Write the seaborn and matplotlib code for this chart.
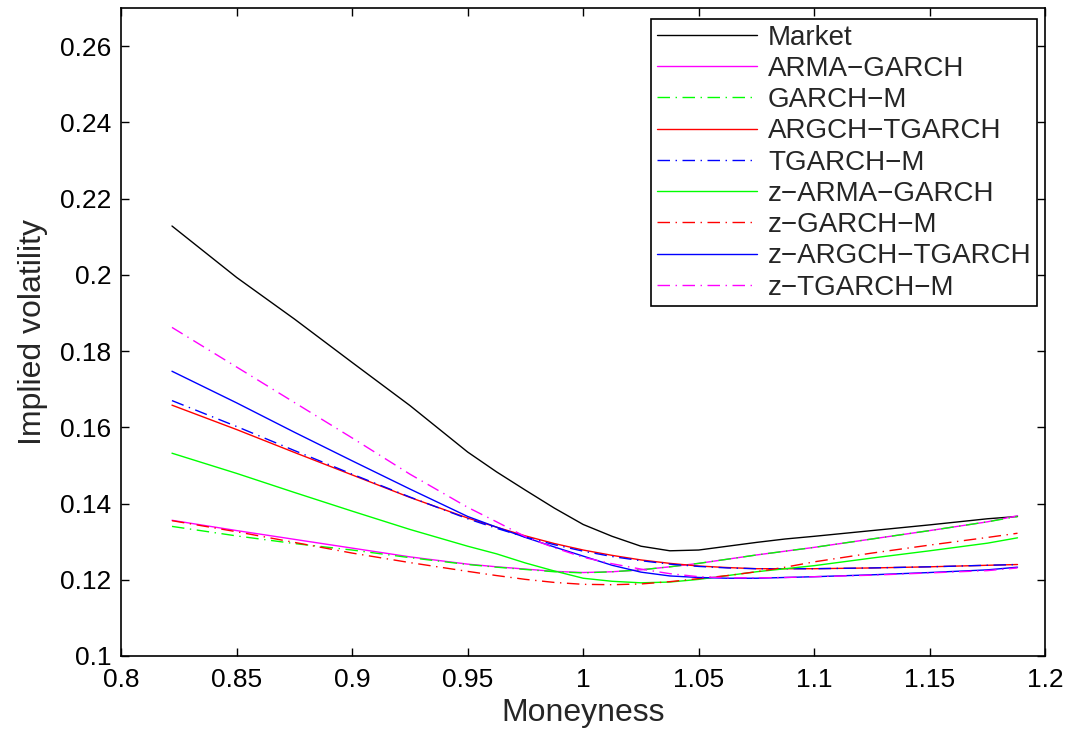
import numpy as np
import pandas as pd
import matplotlib
matplotlib.use("Agg")
import matplotlib.pyplot as plt
import seaborn as sns

moneyness = [0.822, 0.85, 0.875, 0.9, 0.925, 0.95, 0.9625, 0.975, 0.9875, 1.0, 1.0125,
             1.025, 1.0375, 1.05, 1.0625, 1.075, 1.0875, 1.1, 1.125, 1.15, 1.175, 1.188]

market = [0.2128, 0.1993, 0.1884, 0.1770, 0.1657, 0.1535, 0.1483, 0.1435, 0.1388, 0.1345, 0.1314,
          0.1288, 0.1276, 0.1278, 0.1288, 0.1298, 0.1307, 0.1314, 0.1329, 0.1344, 0.1360, 0.1366]
arma_garch = [0.1356, 0.1329, 0.1306, 0.1283, 0.1260, 0.1241, 0.1234, 0.1228, 0.1222, 0.1219, 0.1221,
              0.1226, 0.1234, 0.1243, 0.1254, 0.1265, 0.1275, 0.1285, 0.1307, 0.1329, 0.1352, 0.1368]
garch_m = [0.1340, 0.1315, 0.1295, 0.1278, 0.1258, 0.1240, 0.1233, 0.1227, 0.1221, 0.1218, 0.1221,
           0.1226, 0.1234, 0.1243, 0.1254, 0.1265, 0.1275, 0.1285, 0.1307, 0.1329, 0.1352, 0.1366]
argch_tgarch = [0.1658, 0.1594, 0.1534, 0.1475, 0.1416, 0.1362, 0.1338, 0.1315, 0.1295, 0.1278, 0.1264,
                0.1252, 0.1243, 0.1236, 0.1232, 0.1229, 0.1229, 0.1229, 0.1231, 0.1234, 0.1238, 0.1240]
tgarch_m = [0.1670, 0.1602, 0.1539, 0.1477, 0.1417, 0.1360, 0.1335, 0.1312, 0.1292, 0.1275, 0.1261,
            0.1250, 0.1241, 0.1235, 0.1231, 0.1229, 0.1229, 0.1229, 0.1231, 0.1234, 0.1238, 0.1240]
z_arma_garch = [0.1532, 0.1479, 0.1429, 0.1380, 0.1332, 0.1288, 0.1268, 0.1244, 0.1223, 0.1204, 0.1196,
                0.1192, 0.1194, 0.1201, 0.1211, 0.1221, 0.1229, 0.1237, 0.1257, 0.1276, 0.1296, 0.1310]
z_garch_m = [0.1355, 0.1326, 0.1298, 0.1270, 0.1245, 0.1222, 0.1211, 0.1201, 0.1193, 0.1188, 0.1187,
             0.1189, 0.1195, 0.1203, 0.1211, 0.1221, 0.1233, 0.1247, 0.1270, 0.1291, 0.1311, 0.1322]
z_argch_tgarch = [0.1747, 0.1664, 0.1587, 0.1512, 0.1438, 0.1366, 0.1338, 0.1311, 0.1286, 0.1262, 0.1238,
                  0.1220, 0.1210, 0.1206, 0.1204, 0.1204, 0.1206, 0.1208, 0.1213, 0.1219, 0.1226, 0.1233]
z_tgarch_m = [0.1862, 0.1758, 0.1665, 0.1572, 0.1477, 0.1390, 0.1352, 0.1313, 0.1284, 0.1259, 0.1242,
              0.1228, 0.1216, 0.1208, 0.1205, 0.1205, 0.1206, 0.1208, 0.1212, 0.1218, 0.1224, 0.1231]

labels = ["Market", "ARMA\u2212GARCH", "GARCH\u2212M", "ARGCH\u2212TGARCH", "TGARCH\u2212M",
          "z\u2212ARMA\u2212GARCH", "z\u2212GARCH\u2212M", "z\u2212ARGCH\u2212TGARCH", "z\u2212TGARCH\u2212M"]
series = [market, arma_garch, garch_m, argch_tgarch, tgarch_m,
          z_arma_garch, z_garch_m, z_argch_tgarch, z_tgarch_m]
colors = ["#000000", "#ff00ff", "#00ff00", "#ff0000", "#0000ff",
          "#00ff00", "#ff0000", "#0000ff", "#ff00ff"]
dashdot = (9, 4, 1, 4)
dash_styles = ["", "", dashdot, "", dashdot, "", dashdot, "", dashdot]

rows = []
for lab, vals in zip(labels, series):
    for m, v in zip(moneyness, vals):
        rows.append({"Moneyness": m, "vol": v, "model": lab})
df = pd.DataFrame(rows)

sns.set_style("white")
plt.rcParams["font.family"] = ["Liberation Sans", "DejaVu Sans"]

fig = plt.figure(figsize=(10.77, 7.31), dpi=100)
ax = fig.add_axes([0.1125, 0.1026, 0.858, 0.8865])

sns.lineplot(data=df, x="Moneyness", y="vol", hue="model", style="model",
             hue_order=labels, style_order=labels,
             palette=dict(zip(labels, colors)),
             dashes=dict(zip(labels, dash_styles)),
             linewidth=1.0, ax=ax, legend="full", sort=True)

ax.set_xlim(0.8, 1.2)
ax.set_ylim(0.1, 0.27)
ax.set_xticks([0.8, 0.85, 0.9, 0.95, 1.0, 1.05, 1.1, 1.15, 1.2])
ax.set_xticklabels(["0.8", "0.85", "0.9", "0.95", "1", "1.05", "1.1", "1.15", "1.2"])
ax.set_yticks([0.1, 0.12, 0.14, 0.16, 0.18, 0.2, 0.22, 0.24, 0.26])
ax.set_yticklabels(["0.1", "0.12", "0.14", "0.16", "0.18", "0.2", "0.22", "0.24", "0.26"])
ax.tick_params(direction="in", length=6, width=1, labelsize=19, top=True, right=True,
               bottom=True, left=True, colors="black")
ax.tick_params(axis="x", pad=9)
ax.tick_params(axis="y", pad=7)
ax.set_xlabel("Moneyness", fontsize=23, labelpad=4)
ax.set_ylabel("Implied volatility", fontsize=23, labelpad=9)
for s in ax.spines.values():
    s.set_color("black")
    s.set_linewidth(1.2)

handles, labs = ax.get_legend_handles_labels()
leg = ax.legend(handles, labs, loc="upper right", fontsize=20, frameon=True,
                fancybox=False, edgecolor="black", framealpha=1,
                handlelength=3.6, handletextpad=0.4, labelspacing=0.19,
                borderpad=0.2, borderaxespad=0, bbox_to_anchor=(0.9913, 0.983))
leg.get_frame().set_linewidth(1.2)

fig.savefig("out.png", dpi=100)
